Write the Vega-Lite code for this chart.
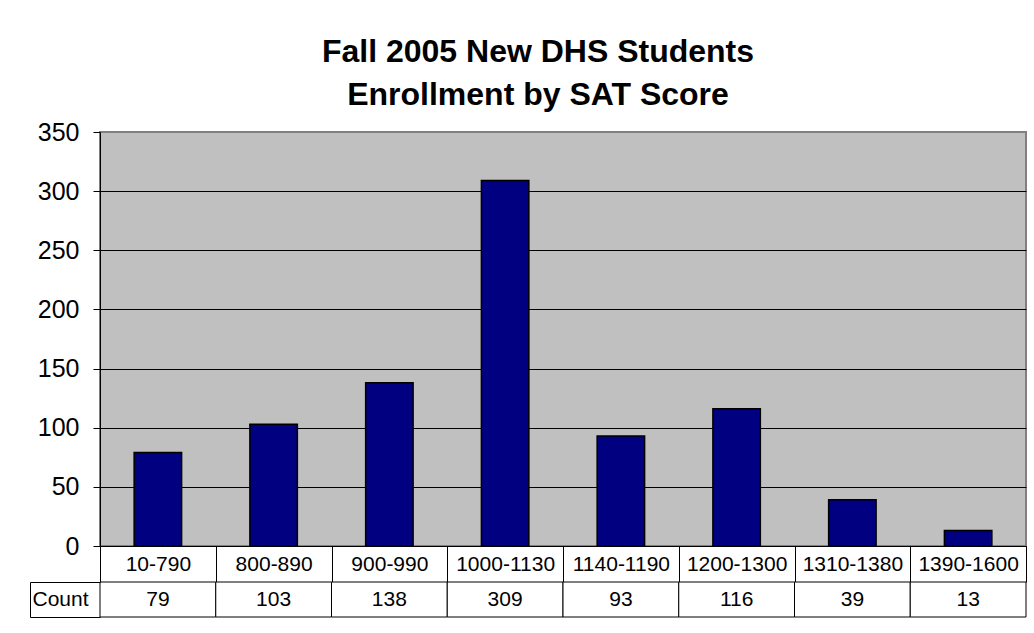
{
  "$schema": "https://vega.github.io/schema/vega-lite/v6.json",
  "background": "white",
  "padding": {"left": 29, "top": 35, "right": 0, "bottom": 0},
  "config": {"font": "Liberation Sans", "view": {"stroke": null}, "concat": {"spacing": 0}},
  "data": {"values": [
    {"range": "10-790", "count": 79},
    {"range": "800-890", "count": 103},
    {"range": "900-990", "count": 138},
    {"range": "1000-1130", "count": 309},
    {"range": "1140-1190", "count": 93},
    {"range": "1200-1300", "count": 116},
    {"range": "1310-1380", "count": 39},
    {"range": "1390-1600", "count": 13}
  ]},
  "spacing": 36,
  "bounds": "flush",
  "vconcat": [
    {
      "width": 926,
      "height": 414,
      "title": {
        "text": ["Fall 2005 New DHS Students", "Enrollment by SAT Score"],
        "fontSize": 32, "fontWeight": "bold", "lineHeight": 43, "color": "black",
        "anchor": "middle", "frame": "group", "dx": -25, "offset": 8, "font": "Liberation Sans"
      },
      "view": {"fill": "#C0C0C0", "stroke": "#808080", "strokeWidth": 2},
      "mark": {"type": "bar", "color": "#000080", "stroke": "black", "strokeWidth": 1.5, "width": {"band": 0.41}},
      "encoding": {
        "x": {
          "field": "range", "type": "nominal", "sort": null,
          "scale": {"paddingInner": 0, "paddingOuter": 0},
          "axis": {
            "title": null, "tickBand": "extent", "tickSize": 36, "tickColor": "black", "domainColor": "black",
            "labelFontSize": 21, "labelColor": "black", "labelFont": "Liberation Sans",
            "labelPadding": -18, "labelBaseline": "middle", "labelAngle": 0, "labelOverlap": false,
            "minExtent": 36, "maxExtent": 36
          }
        },
        "y": {
          "field": "count", "type": "quantitative",
          "scale": {"domain": [0, 350], "nice": false},
          "axis": {
            "values": [0, 50, 100, 150, 200, 250, 300, 350],
            "title": null, "grid": true,
            "gridColor": {"condition": {"test": "datum.value === 350", "value": "#808080"}, "value": "black"},
            "gridOpacity": 1,
            "tickSize": 7, "tickColor": "black", "domainColor": "black",
            "labelFontSize": 25, "labelColor": "black", "labelPadding": 14, "labelFont": "Liberation Sans",
            "minExtent": 70, "maxExtent": 70
          }
        }
      }
    },
    {
      "width": 926,
      "height": 35,
      "encoding": {
        "x": {"field": "range", "type": "nominal", "sort": null, "scale": {"paddingInner": 0, "paddingOuter": 0}, "axis": null},
        "y": {
          "datum": "Count", "type": "nominal",
          "scale": {"paddingInner": 0, "paddingOuter": 0},
          "axis": {
            "title": null, "offset": 70, "tickBand": "extent", "tickSize": -70, "tickColor": "black", "domainColor": "black",
            "labelFontSize": 21, "labelColor": "black", "labelFont": "Liberation Sans",
            "labelAlign": "left", "labelPadding": 68
          }
        }
      },
      "layer": [
        {
          "mark": {"type": "rect", "fill": "white", "stroke": "black", "strokeWidth": 1}
        },
        {
          "mark": {"type": "text", "fontSize": 21, "color": "black", "font": "Liberation Sans"},
          "encoding": {"text": {"field": "count"}}
        }
      ]
    }
  ]
}
